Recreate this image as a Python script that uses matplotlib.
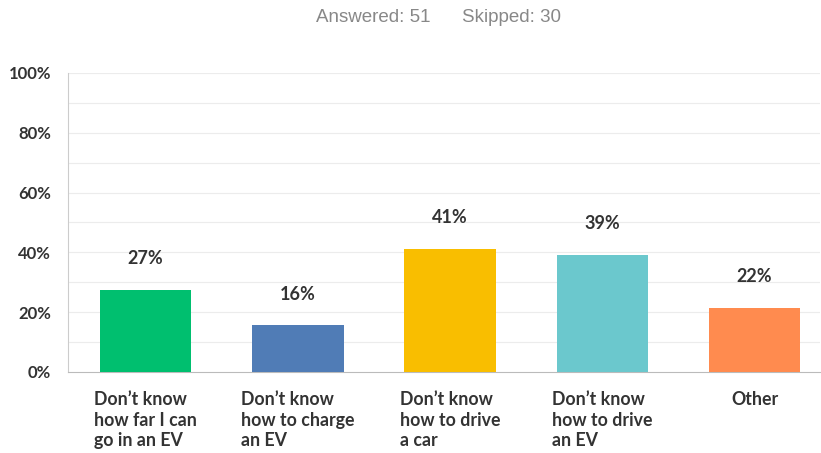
import matplotlib
matplotlib.use("Agg")
import matplotlib.pyplot as plt
import numpy as np

categories = ["Don\u2019t know\nhow far I can\ngo in an EV",
              "Don\u2019t know\nhow to charge\nan EV",
              "Don\u2019t know\nhow to drive\na car",
              "Don\u2019t know\nhow to drive\nan EV",
              "Other"]
values = [27.45, 15.69, 41.18, 39.22, 21.57]
value_labels = ["27%", "16%", "41%", "39%", "22%"]
colors = ["#00BF6F", "#507CB6", "#F9BE00", "#6BC8CD", "#FF8B4F"]
yticks = [0, 20, 40, 60, 80, 100]
ytick_labels = ["0%", "20%", "40%", "60%", "80%", "100%"]

plt.rcParams['font.family'] = ['Lato', 'DejaVu Sans']

fig = plt.figure(figsize=(8.21, 4.53), dpi=100)
ax = fig.add_axes([68/821, 1 - 372/453, (820 - 68)/821, (372 - 73)/453])

x = np.arange(len(categories))
ax.bar(x, values, width=0.6, color=colors, zorder=3)
ax.set_xlim(-0.51, 4.43)
ax.set_ylim(0, 100)

for gy in range(10, 101, 10):
    ax.axhline(gy, color="#ececec", lw=0.8, zorder=1)

for xi, v, lab in zip(x, values, value_labels):
    ax.text(xi, v + 7.5, lab, ha="center", va="bottom", fontsize=13,
            fontweight="bold", color="#333333")

ax.set_yticks(yticks)
ax.set_yticklabels(ytick_labels, fontsize=12, fontweight="bold", color="#333333")
ax.tick_params(axis="y", length=0, pad=12)
ax.set_xticks([])
for xi, c in zip(x, categories):
    ax.text(xi, -6.5, c, ha="center", va="top", multialignment="left",
            fontsize=12.8, fontweight="bold", color="#333333", linespacing=1.25,
            transform=ax.transData, clip_on=False)

for s in ["top", "right"]:
    ax.spines[s].set_visible(False)
ax.spines["left"].set_color("#cccccc")
ax.spines["bottom"].set_color("#bbbbbb")

fig.text(438/821, 1 - 17/453, "Answered: 51      Skipped: 30", ha="center", va="center",
         fontsize=13.5, color="#888888", family=["Liberation Sans", "DejaVu Sans"])

fig.savefig("out.png", dpi=100)
